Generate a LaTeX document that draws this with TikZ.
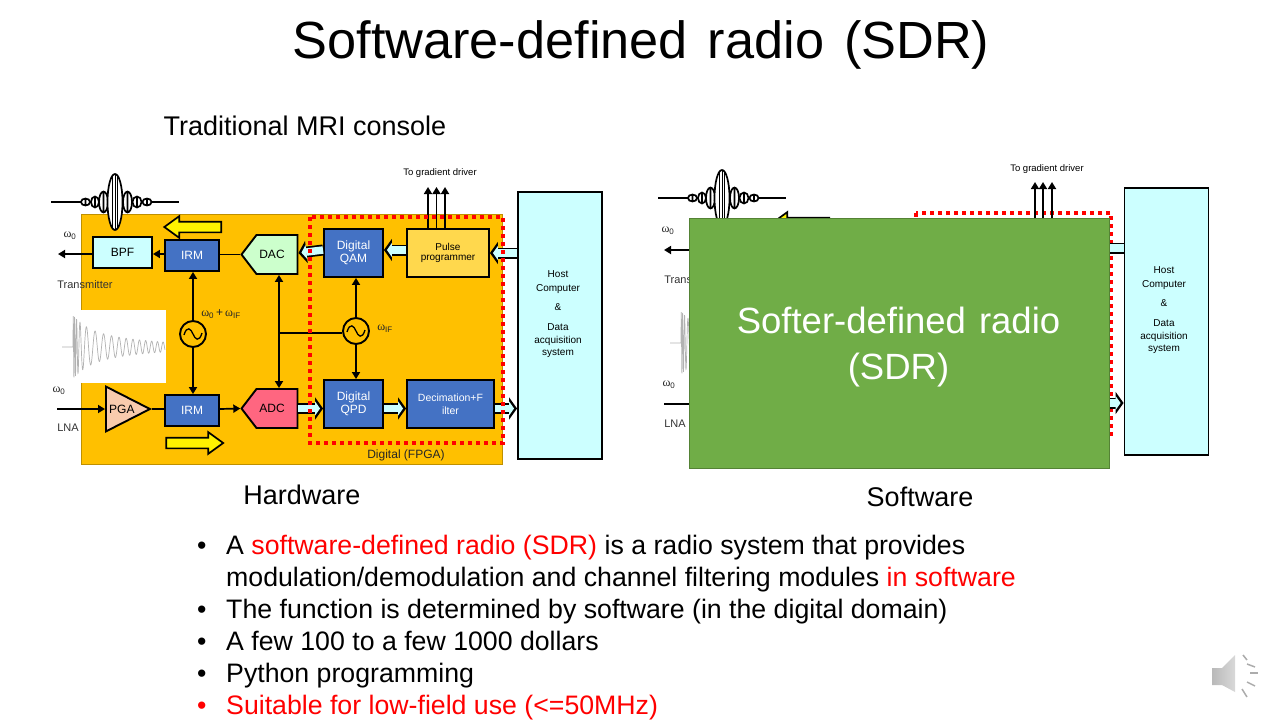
\documentclass[tikz,border=0pt]{standalone}
\usepackage{fontspec}
\setmainfont{Liberation Sans}
\newfontfamily\omegafont{Liberation Serif}
\usetikzlibrary{arrows.meta,shapes.geometric,shapes.arrows,shapes.symbols}

\definecolor{fpgaorange}{HTML}{FFC000}
\definecolor{paleblue}{HTML}{CCFFFF}
\definecolor{moduleblue}{HTML}{4472C4}
\definecolor{softgreen}{HTML}{70AD47}
\definecolor{dacgreen}{HTML}{CCFFCC}
\definecolor{adcpink}{HTML}{FF6680}
\definecolor{pgapeach}{HTML}{F8CBAD}
\definecolor{pulseyellow}{HTML}{FFD84D}
\newcommand{\fsz}[1]{\edef\fszlead{\the\dimexpr #1pt*108/100\relax}\fontsize{#1}{\fszlead}\selectfont}
\newcommand{\omg}[1]{{\omegafont ω}\textsubscript{#1}}

\begin{document}
\begin{tikzpicture}[x=1pt, y=-1pt,
  block/.style={rectangle, draw, line width=1.9pt, inner sep=0pt, align=center, font=\fsz{12}},
  bluebox/.style={block, fill=moduleblue, text=white},
  converter/.style={signal, signal to=west, signal pointer angle=105, draw, line width=1.9pt,
                    inner sep=0pt, minimum width=56pt, minimum height=39pt, font=\fsz{12}},
  osc/.style={circle, draw, line width=1.9pt, fill=fpgaorange, minimum size=26pt, inner sep=0pt,
              path picture={\draw[line width=1.3pt, shift={(path picture bounding box.center)}]
                (-9,1) .. controls (-6,-9) and (-2,-5) .. (0,0) .. controls (2,5) and (6,9) .. (9,-1);}},
  host/.style={block, fill=paleblue, minimum width=84pt, minimum height=267pt},
  hostlabel/.style={align=center, font=\fsz{10}},
  tag/.style={font=\fsz{11}, text=black!80},
  omegatag/.style={font=\fsz{12}, text=black!85},
  thinarrow/.style={line width=1.7pt, -{Triangle[length=7pt,width=8pt]}},
  plainline/.style={line width=1.7pt},
  fatarrow/.style={draw=black, line width=11pt, -{Triangle[length=8pt,width=22pt]},
    postaction={draw=paleblue, line width=7.5pt, shorten >=3pt, -{Triangle[length=5pt,width=14pt]}}},
  yellowarrow/.style={single arrow, draw, line width=1.7pt, fill=yellow, inner xsep=0pt, inner ysep=4.5pt,
    minimum height=57pt, single arrow head extend=5.5pt, single arrow tip angle=72},
  redframe/.style={draw=red, line width=3.5pt, dash pattern=on 4pt off 4pt},
  packet/.pic={
    \draw[line width=1.8pt] (-64,0) -- (64,0);
    \foreach \cx/\rx/\ry in {-29.5/4.5/3.5, 32/4.5/3.5, -20/4/5.5, 22/4.5/5.5, -11.5/4.5/10.5, 12.5/4.5/10.5}
      \draw[line width=1.7pt, fill=white] (\cx,0) ellipse ({\rx} and {\ry}) (\cx,-\ry) -- (\cx,\ry);
    \draw[line width=1.7pt, fill=white] (0,0) ellipse (7.5 and 28);
    \foreach \cx/\ry in {-2.5/27, 0/28, 2.5/27} \draw[line width=.6pt] (\cx,-\ry) -- (\cx,\ry);
  },
  decay/.pic={
    \draw[gray!60, line width=.7pt] (-11,0) -- (0,0)
      plot[domain=0:92, samples=800] (\x,{-(14*exp(-\x/14)+18*exp(-\x/70))*sin(deg(6.2832*(3*(1-exp(-\x/3.5))+\x/11+\x*\x/2000)))});
  }]
  \useasboundingbox (0,0) rectangle (1280,720);

  \node[font={\fsz{52.3}\spaceskip=20pt\relax}] (title) at (641,45) {Software-defined radio (SDR)};
  \node[font=\fsz{27}] (tradlabel) at (305,126) {Traditional MRI console};
  \node[font=\fsz{27}] (hwlabel) at (302,495) {Hardware};
  \node[font=\fsz{27}] (swlabel) at (920,497) {Software};

  % left console
  \node[rectangle, draw=fpgaorange!75!black, fill=fpgaorange, minimum width=421pt, minimum height=250pt,
        inner sep=0pt] (fpga) at (291.5,339) {};
  \path (115,202) pic {packet};
  \fill[white] (61,310) rectangle (166,383);
  \path (73,347) pic {decay};

  \node[block, fill=paleblue, minimum width=59pt, minimum height=31pt] (bpf) at (122.5,252.5) {BPF};
  \node[bluebox, minimum width=54pt, minimum height=31pt] (irmtx) at (192,255.5) {IRM};
  \node[converter, fill=dacgreen] (dac) at (277,254.5) {DAC\kern10pt};
  \node[bluebox, minimum width=59pt, minimum height=48pt] (qam) at (353.5,253) {Digital\\QAM};
  \node[block, fill=pulseyellow, minimum width=82pt, minimum height=48pt, font=\fsz{10}]
    (pulse) at (448,253) {Pulse\\programmer};
  \node[osc] (osctx) at (193,334) {};
  \node[osc] (oscif) at (356,331) {};
  \node[isosceles triangle, isosceles triangle apex angle=54, draw, line width=1.9pt, fill=pgapeach,
        inner sep=0pt, minimum height=44pt, anchor=lower side, font=\fsz{12}] (pga) at (105,409) {PGA};
  \node[bluebox, minimum width=54pt, minimum height=31pt] (irmrx) at (192,410.5) {IRM};
  \node[converter, fill=adcpink] (adc) at (277,408.5) {ADC\kern10pt};
  \node[bluebox, minimum width=59pt, minimum height=48pt] (qpd) at (353.5,404) {Digital\\QPD};
  \node[bluebox, minimum width=87pt, minimum height=48pt, font=\fsz{10.5}] (decim) at (450.5,404) {Decimation+F\\[2pt]ilter};
  \node[host] (hostl) at (560,325.5) {};
  \node[hostlabel] (hostltext) at (558,314) {Host\\[3pt]Computer\\[8pt]\&\\[10pt]Data\\[2pt]acquisition\\[1pt]system};
  \node[yellowarrow, shape border rotate=180] (txflow) at (196.5,227) {};
  \node[yellowarrow] (rxflow) at (191,443) {};

  \coordinate (txout) at (58,254);
  \coordinate (rxin) at (57,409);
  \coordinate (gradl) at (437,187);
  \node[font=\fsz{9.5}] (gradltext) at (440,173) {To gradient driver};
  \node[omegatag] (w0tx) at (70,236) {\omg{0}};
  \node[tag] (txname) at (85,285) {Transmitter};
  \node[omegatag] (w0sum) at (221,314) {\omg{0}\,+\,\omg{IF}};
  \node[omegatag] (wif) at (385,329) {\omg{IF}};
  \node[omegatag] (w0rx) at (59,391) {\omg{0}};
  \node[tag] (lnaname) at (68,428) {LNA};
  \node[font=\fsz{12}, text=black!85] (fpganame) at (406,455) {Digital (FPGA)};

  \draw[thinarrow] (bpf.west |- txout) -- (txout);
  \draw[thinarrow] (irmtx.west |- txout) -- (bpf.east |- txout);
  \draw[plainline] (dac.west) -- (irmtx.east |- dac.west);
  \draw[thinarrow] (osctx) -- (irmtx.south -| osctx);
  \draw[thinarrow] (osctx) -- (irmrx.north -| osctx);
  \draw[line width=1.7pt, {Triangle[length=7pt,width=8pt]}-{Triangle[length=7pt,width=8pt]}] (dac.south -| 279,0) -- (adc.north -| 279,0);
  \draw[plainline] (279,333) -- (oscif.west |- 0,333);
  \draw[thinarrow] (oscif) -- (qam.south -| oscif);
  \draw[thinarrow] (oscif) -- (qpd.north -| oscif);
  \draw[thinarrow] (rxin) -- (pga.lower side);
  \draw[plainline] (pga.apex) -- (pga.apex -| irmrx.west);
  \draw[thinarrow] (pga.apex -| irmrx.east) -- (adc.west);
  \foreach \dx in {-20,-11.5,-3}
    \draw[thinarrow] ([xshift=\dx pt]pulse.north) -- ([xshift=\dx pt]pulse.north |- gradl);
  \draw[fatarrow] ([yshift=3pt]qam.west) -- ([yshift=1.5pt]dac.east);
  \draw[fatarrow] ([yshift=3pt]pulse.west) -- ([yshift=3pt]qam.east);
  \draw[fatarrow] (hostl.west |- pulse) -- (pulse.east);
  \draw[fatarrow] (adc.east) -- (qpd.west |- adc);
  \draw[fatarrow] (qpd.east |- adc) -- (decim.west |- adc);
  \draw[fatarrow] (decim.east |- adc) -- (hostl.west |- adc);
  \draw[redframe] (310,217) rectangle (503,443);

  % right console, mostly covered
  \path (722,198) pic {packet};
  \path (681,343) pic {decay};
  \node[yellowarrow, shape border rotate=180] (txflowr) at (804.5,223) {};
  \node[omegatag] (w0txr) at (668,231) {\omg{0}};
  \node[tag] (txnamer) at (692,280) {Transmitter};
  \node[omegatag] (w0rxr) at (669,385) {\omg{0}};
  \node[tag] (lnanamer) at (675,424) {LNA};
  \node[host] (hostr) at (1166.5,321.5) {};
  \node[hostlabel] (hostrtext) at (1164,310) {Host\\[3pt]Computer\\[8pt]\&\\[10pt]Data\\[2pt]acquisition\\[1pt]system};
  \node[font=\fsz{9.5}] (gradrtext) at (1047,169) {To gradient driver};
  \coordinate (txoutr) at (664,250);
  \coordinate (rxinr) at (664,404);
  \coordinate (gradr) at (1043,182);
  \coordinate (pulser) at (1043,240);
  \coordinate (hostinr) at (1095,248);
  \coordinate (decimr) at (1095,403);
  \draw[redframe] (916,213) rectangle (1111,439);
  \foreach \dx in {-8,0,9}
    \draw[thinarrow] ([xshift=\dx pt]pulser) -- ([xshift=\dx pt]gradr);
  \draw[fatarrow] (hostr.west |- hostinr) -- (hostinr);
  \draw[fatarrow] (decimr) -- (hostr.west |- decimr);
  \node[rectangle, draw=softgreen!75!black, fill=softgreen, minimum width=420pt, minimum height=250pt,
        inner sep=0pt] (softbox) at (899.5,343.5) {};
  \node[text=white, align=center, font={\fontsize{36.5}{46}\selectfont\spaceskip=13pt\relax}] (softtext) at (898.5,347.5) {Softer-defined radio\\(SDR)};
  \draw[thinarrow] (softbox.west |- txoutr) -- (txoutr);
  \draw[plainline] (rxinr) -- (softbox.west |- rxinr);

  % bullets
  \node[anchor=north west, align=left, inner sep=0pt, font=\fontsize{26.7}{32}\selectfont] (bullets) at (197,535) {%
    \makebox[29pt][l]{\textbullet}A \textcolor{red}{software-defined radio (SDR)} is a radio system that provides\\
    \makebox[29pt][l]{}modulation/demodulation and channel filtering modules \textcolor{red}{in software}\\
    \makebox[29pt][l]{\textbullet}The function is determined by software (in the digital domain)\\
    \makebox[29pt][l]{\textbullet}A few 100 to a few 1000 dollars\\
    \makebox[29pt][l]{\textbullet}Python programming\\
    \textcolor{red}{\makebox[29pt][l]{\textbullet}Suitable for low-field use (<=50MHz)}};

  % speaker
  \shade[left color=gray!55, right color=gray!30] (1212,668) -- (1222,668) -- (1235,655) -- (1235,692) -- (1222,685) -- (1212,685) -- cycle;
  \foreach \ax/\ay/\bx/\by in {1243/655/1247/660, 1247/664/1255/667, 1250/673/1258/673, 1247/682/1255/686, 1242/689/1247/697}
    \draw[gray!65, line width=1.5pt] (\ax,\ay) -- (\bx,\by);
\end{tikzpicture}
\end{document}
